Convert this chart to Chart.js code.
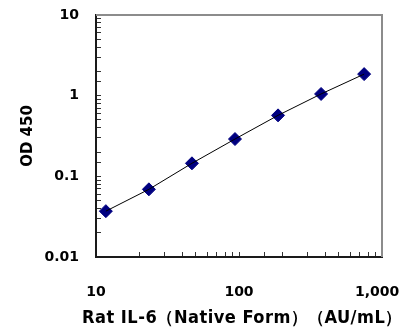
<!DOCTYPE html>
<html>
<head>
<meta charset="utf-8">
<script src="https://cdn.jsdelivr.net/npm/chart.js@4/dist/chart.umd.min.js"></script>
<style>
  html, body { margin: 0; padding: 0; background: #fff; }
  #wrap { width: 406px; height: 327px; }
</style>
</head>
<body>
<div id="wrap"><canvas id="chart"></canvas></div>
<script>
// data
const concentrations = [11.72, 23.44, 46.88, 93.75, 187.5, 375, 750];
const od450 = [0.037, 0.069, 0.145, 0.29, 0.57, 1.05, 1.85];

const xTickLabels = { 1: '10', 2: '100', 3: '1,000  ' };
const yTickLabels = { '-2': '0.01', '-1': '0.1', 0: '1', 1: '10' };

const points = concentrations.map((c, i) => ({ x: c, y: od450[i] }));

function decadeLabel(map, value) {
    const e = Math.log10(value);
    const r = Math.round(e);
    if (Math.abs(e - r) < 1e-6 && map[r] !== undefined) return map[r];
    return '';
}

// grey frame on top / right, like the original plot box
const frame = {
    id: 'frame',
    beforeDatasetsDraw(chart) {
        const a = chart.chartArea;
        const c = chart.ctx;
        c.save();
        c.strokeStyle = '#8c8c8c';
        c.lineWidth = 2;
        c.beginPath();
        c.moveTo(a.left, a.top);
        c.lineTo(a.right, a.top);
        c.lineTo(a.right, a.bottom);
        c.stroke();
        c.restore();
    }
};

// the original x title is wider than the plot: widen the box it is fitted into
// (maxWidth keeps it inside the canvas) and space the letters slightly
const wideTitle = {
    id: 'wideTitle',
    beforeDraw(chart) {
        const s = chart.scales.x;
        if (s._wideTitle) return;
        const orig = s.drawTitle.bind(s);
        s.drawTitle = function () {
            const l = this.left, r = this.right;
            this.left = l - 14;
            this.right = r + 20;
            this.ctx.save();
            this.ctx.letterSpacing = '0.5px';
            orig();
            this.ctx.restore();
            this.left = l;
            this.right = r;
        };
        s._wideTitle = true;
    }
};

const ctx = document.getElementById('chart').getContext('2d');
const chart = new Chart(ctx, {
    type: 'scatter',
    data: {
        datasets: [{
            label: 'fit',
            data: points,
            showLine: true,
            borderColor: '#000',
            borderWidth: 1,
            pointRadius: 0,
            order: 0
        }, {
            label: 'OD 450',
            data: points,
            showLine: false,
            pointStyle: 'rectRot',
            pointRadius: 6.5,
            pointBackgroundColor: '#000080',
            pointBorderColor: '#000080',
            pointBorderWidth: 1,
            order: 1
        }]
    },
    options: {
        responsive: true,
        maintainAspectRatio: false,
        animation: false,
        layout: { padding: { top: 15, right: 24, left: 0, bottom: 0 } },
        plugins: {
            legend: { display: false },
            tooltip: { enabled: false }
        },
        scales: {
            x: {
                type: 'logarithmic',
                min: 10,
                max: 1000,
                border: { display: true, color: '#1a1a1a', width: 2 },
                grid: { drawOnChartArea: false, tickLength: -5, color: '#333' },
                ticks: {
                    autoSkip: false,
                    maxRotation: 0,
                    padding: 32,
                    color: '#000',
                    font: { family: 'DejaVu Sans', size: 14, weight: 'bold' },
                    callback: v => decadeLabel(xTickLabels, v)
                },
                title: {
                    display: true,
                    text: 'Rat IL-6（Native Form）（AU/mL）',
                    color: '#000',
                    font: { family: 'DejaVu Sans', size: 17, weight: 'bold', lineHeight: 1.2 },
                    padding: { top: 0, bottom: -2 }
                },
                afterFit: s => { s.height = 70; s.paddingLeft = 0; s.paddingRight = 0; }
            },
            y: {
                type: 'logarithmic',
                min: 0.01,
                max: 10,
                border: { display: true, color: '#1a1a1a', width: 2 },
                grid: { drawOnChartArea: false, tickLength: -5, color: '#333' },
                ticks: {
                    autoSkip: false,
                    padding: 22,
                    color: '#000',
                    font: { family: 'DejaVu Sans', size: 14, weight: 'bold' },
                    callback: v => decadeLabel(yTickLabels, v)
                },
                title: {
                    display: true,
                    text: 'OD 450',
                    color: '#000',
                    font: { family: 'DejaVu Sans', size: 15, weight: 'bold', lineHeight: 1.2 },
                    padding: { top: 19, bottom: 0 }
                },
                afterFit: s => { s.width = 96; s.paddingTop = 0; s.paddingBottom = 0; }
            }
        }
    },
    plugins: [frame, wideTitle]
});
</script>
</body>
</html>
